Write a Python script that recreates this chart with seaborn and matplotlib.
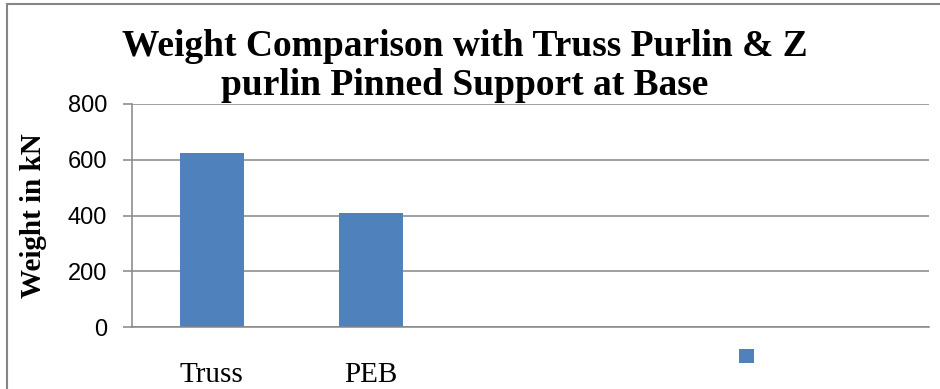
import matplotlib
matplotlib.use("Agg")
import matplotlib.pyplot as plt
from matplotlib.patches import Rectangle
import seaborn as sns
import pandas as pd

# data
categories = ["Truss", "PEB"]
weights = [625, 408]
series_name = " "
# the Excel chart keeps 3 empty category slots on the right
slots = ["Truss", "PEB", " ", "  ", "   "]
y_ticks = [0, 200, 400, 600, 800]

df = pd.DataFrame({"Structure": categories, "Weight": weights, "Series": series_name})

sns.set_theme(style="white")
plt.rcParams["font.family"] = ["Liberation Sans", "DejaVu Sans"]
plt.rcParams["text.color"] = "black"

grey = "#868686"
fig = plt.figure(figsize=(9.4, 3.89), dpi=100)
ax = fig.add_axes([132 / 940, 1 - 327 / 389, 797 / 940, 223 / 389])

sns.barplot(data=df, x="Structure", y="Weight", hue="Series", order=slots,
            palette=["#4F81BD"], width=0.4, saturation=1, linewidth=0, ax=ax)

ax.set_ylim(0, 800)
ax.set_yticks(y_ticks)
ax.yaxis.grid(True, color=grey, linewidth=1.1)
ax.set_axisbelow(True)
for side in ["top", "right"]:
    ax.spines[side].set_visible(False)
for side in ["left", "bottom"]:
    ax.spines[side].set_color(grey)
    ax.spines[side].set_linewidth(1.1)

ax.tick_params(axis="y", left=True, length=6.5, width=1.1, color=grey, pad=11.5,
               labelsize=17, labelcolor="black")
ax.tick_params(axis="x", bottom=False, length=0, pad=25)
for lab in ax.get_xticklabels():
    lab.set_family("Liberation Serif")
    lab.set_fontsize(21)
    lab.set_color("black")

ax.set_xlabel("")
ax.set_ylabel("Weight in kN", fontfamily="Liberation Serif", fontweight="bold",
              fontsize=21, color="black")
ax.yaxis.set_label_coords(-0.107, 0.5)

fig.text(465 / 940, 1 - 29 / 389,
         "Weight Comparison with Truss Purlin & Z\npurlin Pinned Support at Base",
         ha="center", va="top", fontfamily="Liberation Serif", fontweight="bold",
         fontsize=27, linespacing=1.13, color="black")

sns.move_legend(ax, "center left", bbox_to_anchor=(739 / 940, 1 - 357 / 389),
                bbox_transform=fig.transFigure, frameon=False, title=None,
                fontsize=11, handlelength=1, handleheight=1, handletextpad=0,
                borderpad=0, borderaxespad=0)

# outer chart frame (cropped on the right and bottom in the reference)
fig.patches.append(Rectangle((7 / 940, -0.1), 1.2, 1.1 - 4 / 389, transform=fig.transFigure,
                             fill=False, edgecolor=grey, linewidth=1.5))

fig.savefig("out.png", dpi=100)
